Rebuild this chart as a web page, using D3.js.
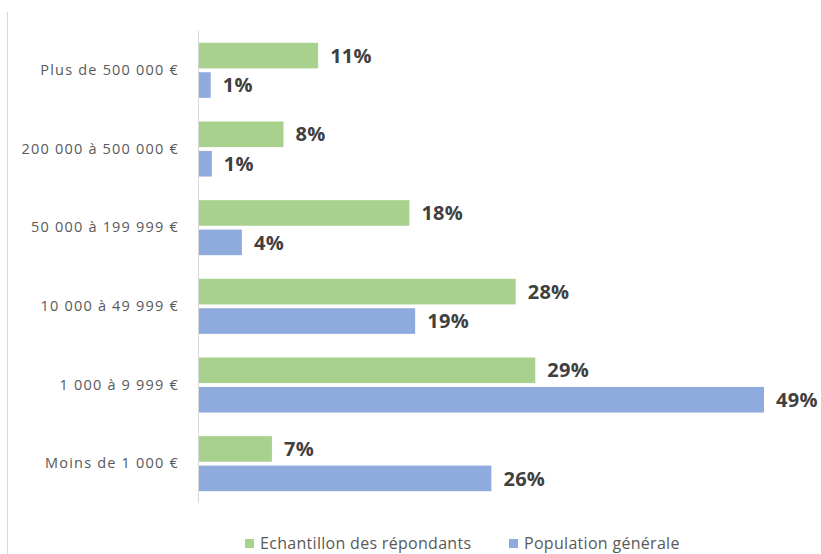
<!DOCTYPE html>
<html><head><meta charset="utf-8">
<script src="https://cdn.jsdelivr.net/npm/d3@7"></script>
<style>body{margin:0;background:#fff}svg{display:block}</style>
</head><body>
<svg id="c" width="821" height="554"></svg>
<script>
const categories = ["Plus de 500 000 €","200 000 à 500 000 €","50 000 à 199 999 €","10 000 à 49 999 €","1 000 à 9 999 €","Moins de 1 000 €"];
const seriesNames = ["Echantillon des répondants","Population générale"];
const echantillon = [10.4, 7.4, 18.3, 27.5, 29.2, 6.4];
const population = [1.1, 1.2, 3.8, 18.8, 49, 25.4];
const labelsEchantillon = ["11%","8%","18%","28%","29%","7%"];
const labelsPopulation = ["1%","1%","4%","19%","49%","26%"];
const colors = ["#a9d18e","#8faadc"];

const svg = d3.select("#c");
const font = "'Open Sans', 'Liberation Sans', sans-serif";

// outer border line
svg.append("line").attr("x1",7.5).attr("x2",7.5).attr("y1",12).attr("y2",554)
  .attr("stroke","#d9d9d9").attr("stroke-width",1);

const x = d3.scaleLinear().domain([0,49]).range([198,764]);
const y = d3.scaleBand().domain(categories).range([31,503]).paddingInner(0.3).paddingOuter(0.15);
const sub = d3.scaleBand().domain([0,1]).range([0,y.bandwidth()]).paddingInner(0.13);

const series = [echantillon, population];
const labels = [labelsEchantillon, labelsPopulation];

series.forEach((vals, si) => {
  const g = svg.append("g");
  g.selectAll("rect").data(vals).join("rect")
    .attr("x", x(0))
    .attr("y", (d,i) => y(categories[i]) + sub(si))
    .attr("width", d => x(d) - x(0))
    .attr("height", sub.bandwidth())
    .attr("fill", colors[si]);
  g.selectAll("text").data(vals).join("text")
    .attr("x", d => x(d) + 12)
    .attr("y", (d,i) => y(categories[i]) + sub(si) + sub.bandwidth()/2)
    .attr("dy","0.36em")
    .attr("font-family", font).attr("font-size", 20).attr("font-weight", "bold")
    .attr("fill","#404040").attr("letter-spacing","0.3")
    .text((d,i) => labels[si][i]);
});

// category axis
const yAxis = d3.axisLeft(y).tickSize(0).tickPadding(19);
const ag = svg.append("g").attr("transform", `translate(${x(0)},0)`).call(yAxis);
ag.select(".domain").attr("stroke","#d9d9d9").attr("d", `M0.5,31V503`);
ag.selectAll("text").attr("font-family", font).attr("font-size", 14.5).attr("fill","#595959").attr("letter-spacing","1.2");

// legend
const legend = svg.append("g");
const lx = [245, 509];
seriesNames.forEach((n, i) => {
  legend.append("rect").attr("x", lx[i]).attr("y", 539).attr("width", 9).attr("height", 9).attr("fill", colors[i]);
  legend.append("text").attr("x", lx[i] + 15).attr("y", 543).attr("dy","0.35em")
    .attr("font-family", font).attr("font-size", 16).attr("fill","#595959").attr("letter-spacing","0.3")
    .text(n);
});
</script>
</body></html>
